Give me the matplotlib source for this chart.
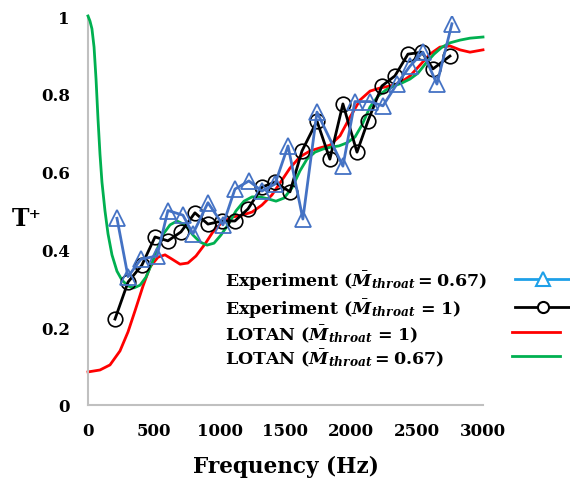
import matplotlib
matplotlib.use("Agg")
import matplotlib.pyplot as plt
from matplotlib.lines import Line2D

# ---- data ----
exp067_f = [220, 304, 402, 524, 607, 721, 797, 911, 1025, 1116, 1222, 1321, 1420,
            1519, 1632, 1739, 1936, 2027, 2141, 2240, 2346, 2445, 2544, 2650, 2764]
exp067_T = [0.48, 0.33, 0.375, 0.383, 0.50, 0.488, 0.44, 0.52, 0.463, 0.555, 0.576,
            0.55, 0.568, 0.666, 0.478, 0.753, 0.614, 0.78, 0.78, 0.769, 0.825,
            0.871, 0.907, 0.825, 0.98]

exp1_f = [205, 304, 410, 509, 607, 706, 812, 911, 1017, 1116, 1215, 1321, 1420,
          1534, 1625, 1739, 1837, 1936, 2043, 2126, 2232, 2331, 2430, 2536, 2620, 2749]
exp1_T = [0.221, 0.316, 0.36, 0.432, 0.422, 0.445, 0.494, 0.465, 0.473, 0.473, 0.504,
          0.560, 0.573, 0.548, 0.653, 0.730, 0.632, 0.774, 0.650, 0.730, 0.820,
          0.846, 0.902, 0.907, 0.864, 0.897]

lotan1_f = [0, 91, 167, 243, 304, 357, 418, 471, 532, 585, 638, 699, 759, 820, 889,
            949, 1018, 1094, 1170, 1246, 1321, 1397, 1473, 1534, 1610, 1686, 1762,
            1838, 1914, 1990, 2066, 2142, 2218, 2294, 2370, 2446, 2522, 2597, 2673,
            2749, 2825, 2901, 3000]
lotan1_T = [0.085, 0.09, 0.103, 0.139, 0.188, 0.242, 0.306, 0.355, 0.380, 0.386,
            0.375, 0.362, 0.365, 0.383, 0.414, 0.445, 0.470, 0.483, 0.488, 0.496,
            0.514, 0.540, 0.578, 0.609, 0.638, 0.653, 0.661, 0.668, 0.692, 0.740,
            0.784, 0.807, 0.815, 0.820, 0.828, 0.846, 0.874, 0.902, 0.920, 0.923,
            0.913, 0.907, 0.913]

lotan067_f = [0, 15, 30, 46, 61, 76, 91, 106, 129, 152, 182, 220, 258, 304, 349, 395,
              441, 486, 532, 577, 623, 676, 737, 797, 851, 904, 957, 1010, 1063, 1124,
              1185, 1246, 1306, 1367, 1428, 1489, 1549, 1610, 1663, 1724, 1785, 1846,
              1906, 1967, 2028, 2081, 2142, 2203, 2263, 2324, 2385, 2446, 2506, 2567,
              2628, 2689, 2749, 2825, 2901, 3000]
lotan067_T = [1.000, 0.987, 0.967, 0.920, 0.838, 0.735, 0.645, 0.573, 0.499, 0.440,
              0.386, 0.344, 0.321, 0.306, 0.301, 0.308, 0.329, 0.365, 0.406, 0.442,
              0.463, 0.473, 0.463, 0.437, 0.419, 0.411, 0.416, 0.437, 0.463, 0.499,
              0.524, 0.535, 0.535, 0.530, 0.524, 0.532, 0.558, 0.602, 0.632, 0.650,
              0.658, 0.663, 0.666, 0.674, 0.689, 0.720, 0.766, 0.794, 0.810, 0.820,
              0.828, 0.838, 0.853, 0.879, 0.902, 0.920, 0.931, 0.938, 0.943, 0.946]

x_ticks = [0, 500, 1000, 1500, 2000, 2500, 3000]
y_ticks = [0, 0.2, 0.4, 0.6, 0.8, 1]
y_ticklabels = ["0", "0.2", "0.4", "0.6", "0.8", "1"]

legend_labels = [
    r"Experiment ($\bar{M}_{throat} = 0.67$)",
    r"Experiment ($\bar{M}_{throat}$ = 1)",
    r"LOTAN ($\bar{M}_{throat}$ = 1)",
    r"LOTAN ($\bar{M}_{throat} = 0.67$)",
]

# ---- style ----
plt.rcParams["font.family"] = ["DejaVu Serif"]
plt.rcParams["font.weight"] = "bold"
plt.rcParams["mathtext.fontset"] = "custom"
plt.rcParams["mathtext.rm"] = "DejaVu Serif:bold"
plt.rcParams["mathtext.it"] = "DejaVu Serif:bold:italic"
plt.rcParams["mathtext.bf"] = "DejaVu Serif:bold"

W, H = 570, 481
fig = plt.figure(figsize=(W / 100, H / 100), dpi=100)
ax = fig.add_axes([88 / W, (H - 406) / H, 395 / W, 389 / H])

ax.plot(lotan1_f, lotan1_T, color="#FF0000", lw=2.0, zorder=2, clip_on=False)
ax.plot(lotan067_f, lotan067_T, color="#00B050", lw=2.0, zorder=3, clip_on=False)
ax.plot(exp1_f, exp1_T, color="black", lw=2.0, marker="o", ms=10.5,
        mfc="none", mec="black", mew=1.2, zorder=4)
ax.plot(exp067_f, exp067_T, color="#4472C4", lw=2.0, marker="^", ms=11,
        mfc="none", mec="#4472C4", mew=1.3, zorder=5)

ax.set_xlim(0, 3000)
ax.set_ylim(0, 1)
ax.set_xticks(x_ticks)
ax.set_xticklabels([str(v) for v in x_ticks])
ax.set_yticks(y_ticks)
ax.set_yticklabels(y_ticklabels)
ax.tick_params(axis="both", length=0, labelsize=12)
ax.tick_params(axis="y", pad=13)
ax.tick_params(axis="x", pad=12)
for lab in ax.get_xticklabels() + ax.get_yticklabels():
    lab.set_fontweight("bold")

for s in ["top", "right"]:
    ax.spines[s].set_visible(False)
for s in ["left", "bottom"]:
    ax.spines[s].set_color("#C0C0C0")
    ax.spines[s].set_linewidth(1.5)

ax.set_xlabel("Frequency (Hz)", fontsize=15.5, fontweight="bold", labelpad=12)
fig.text(27 / W, 1 - 219 / H, "T⁺", fontsize=17, fontweight="bold",
         ha="center", va="center")

# legend: left-aligned labels with handles to the right
handles = [
    Line2D([], [], color="#1EA0E8", lw=2, marker="^", ms=10, mfc="white",
           mec="#1EA0E8", mew=1.5),
    Line2D([], [], color="black", lw=2, marker="o", ms=8, mfc="white",
           mec="black", mew=1.5),
    Line2D([], [], color="#FF0000", lw=2),
    Line2D([], [], color="#00B050", lw=2),
]
row_y = [281, 309, 334, 358]
handle_x = [515, 515, 512, 512]
handle_len = [3.4, 3.4, 2.9, 2.9]
for lab, h, yy, hx, hl in zip(legend_labels, handles, row_y, handle_x, handle_len):
    fig.text(225 / W, 1 - yy / H, lab, fontsize=12.5, fontweight="bold",
             ha="left", va="center")
    fig.legend([h], [""], loc="center left", bbox_to_anchor=(hx / W, 1 - yy / H),
               frameon=False, borderpad=0, borderaxespad=0, handletextpad=0,
               handlelength=hl, fontsize=12)

fig.savefig("out.png", dpi=100)
